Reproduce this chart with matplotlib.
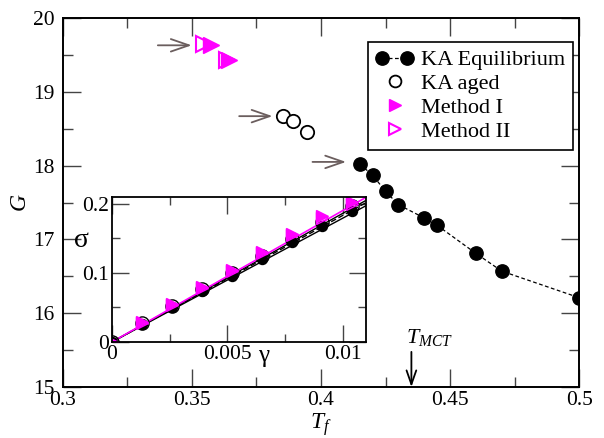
import numpy as np
import matplotlib
matplotlib.use("Agg")
import matplotlib.pyplot as plt
from matplotlib.legend_handler import HandlerLine2D
from matplotlib.ticker import MultipleLocator

plt.rcParams['font.family'] = ['Liberation Serif', 'DejaVu Serif']
plt.rcParams['mathtext.fontset'] = 'custom'
plt.rcParams['mathtext.rm'] = 'Liberation Serif'
plt.rcParams['mathtext.it'] = 'Liberation Serif:italic'

MAGENTA = '#ff00ff'
ARROW_GRAY = '#6b5e5e'

# shear modulus G versus fictive temperature T_f
T_eq = [0.415, 0.420, 0.425, 0.430, 0.440, 0.445, 0.460, 0.470, 0.500]
G_eq = [18.02, 17.87, 17.65, 17.47, 17.29, 17.19, 16.81, 16.57, 16.21]

T_aged = [0.3854, 0.3893, 0.3947]
G_aged = [18.67, 18.61, 18.46]

T_m1 = [0.3573, 0.3645]
G_m1 = [19.63, 19.43]

T_m2 = [0.3547, 0.3635]
G_m2 = [19.65, 19.43]

# arrows pointing at the leftmost point of each set: (T_start, T_end, G)
arrows = [(0.3368, 0.3499, 19.63),
          (0.3683, 0.3812, 18.67),
          (0.3967, 0.4097, 18.05)]

T_MCT = 0.435

# inset: stress-strain curves and the slopes of their linear fits
gamma = [0, 0.0013, 0.0026, 0.0039, 0.0052, 0.0065, 0.0078, 0.0091, 0.0104]
sig_eq = [0, 0.026, 0.050, 0.073, 0.096, 0.120, 0.144, 0.168, 0.189]
sig_aged = [0, 0.027, 0.052, 0.076, 0.100, 0.124, 0.149, 0.173, 0.197]
sig_m1 = [0, 0.029, 0.055, 0.079, 0.104, 0.130, 0.156, 0.182, 0.203]
sig_m2 = [0, 0.028, 0.054, 0.078, 0.103, 0.128, 0.154, 0.179, 0.200]
fit_eq, fit_aged, fit_m2, fit_m1 = 17.9, 18.3, 18.6, 19.0


def style_axes(ax, major, minor, lw=1.4):
    for s in ax.spines.values():
        s.set_linewidth(lw)
    ax.tick_params(which='both', direction='in', top=True, right=True,
                   color='#444444', width=1.0)
    ax.tick_params(which='major', length=major)
    ax.tick_params(which='minor', length=minor)


fig = plt.figure(figsize=(6.04, 4.38), dpi=100)
ax = fig.add_axes([0.104, 0.1164, 0.855, 0.8425])

ax.plot(T_eq, G_eq, 'o', ls=(0, (3, 2)), lw=0.9, color='black', ms=9.6,
        label='KA Equilibrium')
ax.plot(T_aged, G_aged, 'o', ls='none', mfc='white', mec='black', mew=1.3,
        ms=9.6, label='KA aged')
ax.plot(T_m2, G_m2, '>', ls='none', mfc='white', mec=MAGENTA, mew=1.5,
        ms=12, label='Method II', zorder=3)
ax.plot(T_m1, G_m1, '>', ls='none', color=MAGENTA, ms=12, label='Method I',
        zorder=4)

for t0, t1, g in arrows:
    ax.annotate('', xy=(t1, g), xytext=(t0, g),
                arrowprops=dict(arrowstyle='->,head_length=1.3,head_width=0.45',
                                color=ARROW_GRAY, lw=1.3, shrinkA=0, shrinkB=0,
                                mutation_scale=10))

ax.annotate('', xy=(T_MCT, 15.0), xytext=(T_MCT, 15.476),
            arrowprops=dict(arrowstyle='->,head_length=1.0,head_width=0.35',
                            color='black', lw=1.3, shrinkA=0, shrinkB=0,
                            mutation_scale=10))
ax.text(0.4328, 15.59, r'$T_{MCT}$', fontsize=16, ha='left', va='baseline')

ax.set_xlim(0.3, 0.5)
ax.set_ylim(15, 20)
ax.xaxis.set_minor_locator(MultipleLocator(0.025))
ax.yaxis.set_major_locator(MultipleLocator(1))
ax.yaxis.set_minor_locator(MultipleLocator(0.5))
ax.set_xticks([0.3, 0.35, 0.4, 0.45, 0.5])
ax.set_xticklabels(['0.3', '0.35', '0.4', '0.45', '0.5'])
style_axes(ax, 13, 7)
ax.tick_params(labelsize=15.5)
ax.tick_params(axis='x', pad=3)
ax.tick_params(axis='y', pad=6)
ax.set_xlabel(r'$T_f$', fontsize=17, labelpad=1)
ax.set_ylabel(r'$G$', fontsize=17, labelpad=1)

handles, labels = ax.get_legend_handles_labels()
order = [0, 1, 3, 2]
single = HandlerLine2D(numpoints=1)
leg = ax.legend([handles[i] for i in order], [labels[i] for i in order],
                loc='upper left', bbox_to_anchor=(0.591, 0.935),
                borderaxespad=0, numpoints=2, fontsize=16,
                handlelength=1.72, handletextpad=0.3, labelspacing=0.15,
                borderpad=0.35, fancybox=False, framealpha=1,
                edgecolor='black',
                handler_map={handles[1]: single, handles[2]: single,
                             handles[3]: single})
leg.get_frame().set_linewidth(1.2)
for h in leg.legend_handles[1:]:
    h.set_markersize(8.5)

# inset
axi = fig.add_axes([0.1854, 0.2192, 0.4205, 0.331])
axi.axline((0, 0), slope=fit_eq, color='black', lw=1.0)
axi.axline((0, 0), slope=fit_aged, color='black', lw=1.0, ls=(0, (4, 2)))
axi.axline((0, 0), slope=fit_m2, color='black', lw=1.0)
axi.axline((0, 0), slope=fit_m1, color=MAGENTA, lw=1.2)
axi.plot(gamma, sig_eq, 'o', color='black', ms=7.2)
axi.plot(gamma, sig_aged, 'o', color='black', mfc='none', mew=1.0, ms=9.5)
axi.plot(gamma, sig_m2, '>', mfc='none', mec=MAGENTA, mew=1.0, ms=8.5)
axi.plot(gamma, sig_m1, '>', color=MAGENTA, ms=8.5)

axi.set_xlim(0, 0.011)
axi.set_ylim(0, 0.2095)
axi.xaxis.set_minor_locator(MultipleLocator(0.0025))
axi.yaxis.set_minor_locator(MultipleLocator(0.05))
axi.set_xticks([0, 0.005, 0.01])
axi.set_xticklabels(['0', '0.005', '0.01'])
axi.set_yticks([0, 0.1, 0.2])
axi.set_yticklabels(['0', '0.1', '0.2'])
style_axes(axi, 12, 6, lw=1.3)
axi.tick_params(labelsize=15.5, pad=2)
axi.text(0.575, -0.02, 'γ', transform=axi.transAxes, fontsize=18,
         ha='left', va='top')
axi.text(-0.12, 0.70, 'σ', transform=axi.transAxes, fontsize=20,
         ha='center', va='center')

fig.savefig('out.png', dpi=100)
